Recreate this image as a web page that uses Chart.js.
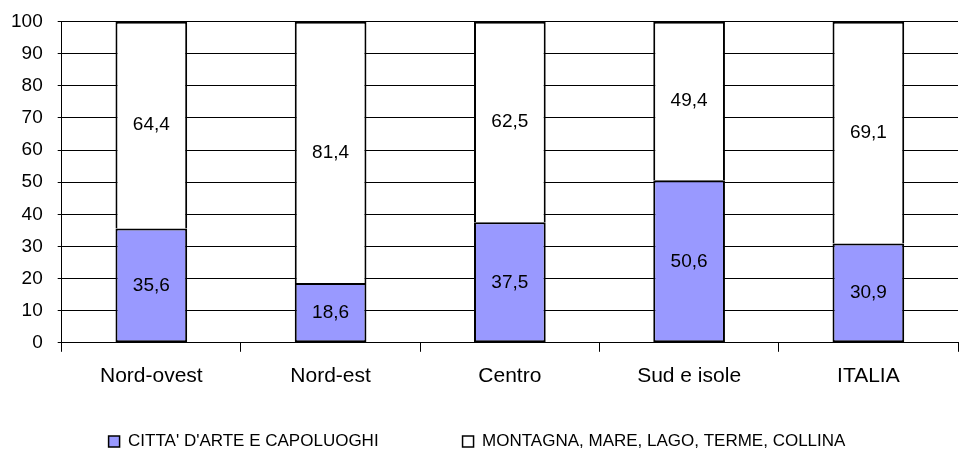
<!DOCTYPE html>
<html>
<head>
<meta charset="utf-8">
<script src="https://cdn.jsdelivr.net/npm/chart.js@4"></script>
<style>
  html, body { margin: 0; padding: 0; background: #fff; }
  #wrap { width: 962px; height: 452px; }
</style>
</head>
<body>
<div id="wrap"><canvas id="areeChart"></canvas></div>
<script>
// categories and series (percent shares)
var regions = ["Nord-ovest", "Nord-est", "Centro", "Sud e isole", "ITALIA"];
var cittaArte = [35.6, 18.6, 37.5, 50.6, 30.9];
var altreLocalita = [64.4, 81.4, 62.5, 49.4, 69.1];
var seriesNames = ["CITTA' D'ARTE E CAPOLUOGHI", "MONTAGNA, MARE, LAGO, TERME, COLLINA"];
var yTicks = [0, 10, 20, 30, 40, 50, 60, 70, 80, 90, 100];

var fontFam = '"Liberation Sans", Arial, sans-serif';

// writes the value in the middle of each bar segment
var valueLabels = {
  id: 'valueLabels',
  afterDatasetsDraw: function(chart) {
    var ctx = chart.ctx;
    ctx.save();
    ctx.font = '19px ' + fontFam;
    ctx.fillStyle = '#000';
    ctx.textAlign = 'center';
    ctx.textBaseline = 'middle';
    chart.data.datasets.forEach(function(ds, i) {
      var meta = chart.getDatasetMeta(i);
      meta.data.forEach(function(bar, j) {
        var mid = (bar.y + bar.base) / 2;
        ctx.fillText(ds.data[j].toFixed(1).replace('.', ','), bar.x, mid);
      });
    });
    ctx.restore();
  }
};

var ctx = document.getElementById("areeChart").getContext('2d');
var areeChart = new Chart(ctx, {
  type: 'bar',
  data: {
    labels: regions,
    datasets: [{
      label: seriesNames[0],
      data: cittaArte,
      backgroundColor: "#9999ff",
      borderColor: "#000000",
      borderWidth: 2,
      borderSkipped: false,
      categoryPercentage: 0.4,
      barPercentage: 1
    }, {
      label: seriesNames[1],
      data: altreLocalita,
      backgroundColor: "#ffffff",
      borderColor: "#000000",
      borderWidth: 2,
      borderSkipped: 'start',
      categoryPercentage: 0.4,
      barPercentage: 1
    }]
  },
  options: {
    responsive: true,
    maintainAspectRatio: false,
    animation: false,
    layout: {
      padding: { left: -4, right: 4, top: 0, bottom: -8 }
    },
    scales: {
      x: {
        stacked: true,
        grid: {
          drawOnChartArea: false,
          drawTicks: true,
          tickLength: 9,
          color: '#000'
        },
        border: { display: true, color: '#000', width: 1 },
        ticks: {
          color: '#000',
          padding: 12,
          font: { family: fontFam, size: 21 }
        }
      },
      y: {
        stacked: true,
        min: 0,
        max: 100,
        afterBuildTicks: function(axis) {
          axis.ticks = yTicks.map(function(v) { return { value: v }; });
        },
        grid: {
          color: '#000',
          lineWidth: 1,
          tickLength: 4
        },
        border: { display: true, color: '#000', width: 1 },
        ticks: {
          color: '#000',
          padding: 15,
          font: { family: fontFam, size: 19, lineHeight: 0.7 }
        }
      }
    },
    plugins: {
      tooltip: { enabled: false },
      legend: {
        position: 'bottom',
        labels: {
          color: '#000',
          boxWidth: 11,
          boxHeight: 11,
          padding: 32,
          font: { family: fontFam, size: 17 },
          generateLabels: function(chart) {
            var items = Chart.defaults.plugins.legend.labels.generateLabels(chart);
            // extra room after the first entry, like the original spacing
            items[0].text = items[0].text + '           ';
            items.forEach(function(it) { it.lineWidth = 1.5; });
            return items;
          }
        }
      }
    }
  },
  plugins: [valueLabels]
});
</script>
</body>
</html>
